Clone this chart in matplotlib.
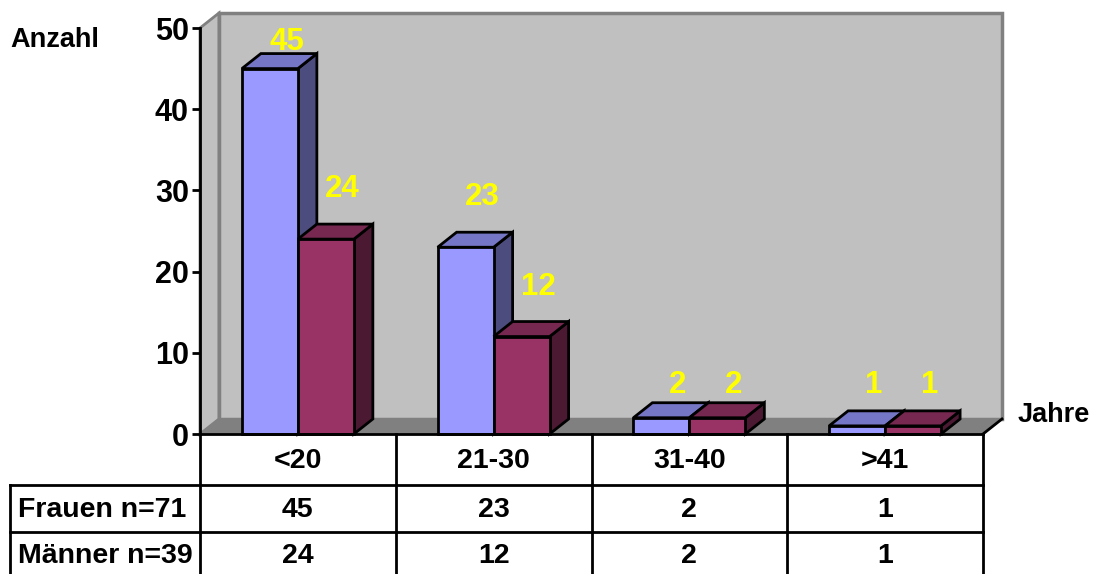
import matplotlib.pyplot as plt
from matplotlib.patches import Polygon

# data
categories = ['<20', '21-30', '31-40', '>41']
frauen = [45, 23, 2, 1]
maenner = [24, 12, 2, 1]
row_labels = ['Frauen n=71', 'Männer n=39']
yticks = [0, 10, 20, 30, 40, 50]

plt.rcParams['font.family'] = ['Liberation Sans', 'DejaVu Sans']
plt.rcParams['font.weight'] = 'bold'

W, H = 1095, 574
fig = plt.figure(figsize=(W / 100, H / 100), dpi=100)
# plot box in pixels: x 200..983, y 28..434
ax = fig.add_axes([200 / W, 1 - 434 / H, 783 / W, 406 / H])
ax.set_xlim(-0.5, 3.5)
ax.set_ylim(0, 50)
for s in ['top', 'right', 'bottom']:
    ax.spines[s].set_visible(False)
ax.spines['left'].set_linewidth(2)
ax.spines['left'].set_zorder(10)
ax.set_xticks([])
ax.set_yticks(yticks)
ax.tick_params(axis='y', length=6, width=2, pad=2, labelsize=22)
ax.patch.set_visible(False)

dx, dy = 0.097, 1.85   # depth offset (category units, value units)
ymax = 50

def poly(pts, fc, ec='black', lw=2, z=2):
    ax.add_patch(Polygon(pts, closed=True, facecolor=fc, edgecolor=ec,
                         linewidth=lw, zorder=z, clip_on=False, joinstyle='miter'))

# walls and floor
poly([(-0.5, 0), (-0.5 + dx, dy), (-0.5 + dx, ymax + dy), (-0.5, ymax)], '#C0C0C0', '#808080', 2, 0)
poly([(-0.5 + dx, dy), (3.5 + dx, dy), (3.5 + dx, ymax + dy), (-0.5 + dx, ymax + dy)], '#C0C0C0', '#808080', 2.5, 0)
poly([(-0.5, 0), (3.5, 0), (3.5 + dx, dy), (-0.5 + dx, dy)], '#808080', '#808080', 1, 0.5)
ax.plot([3.5, 3.5 + dx], [0, dy], color='black', lw=2, clip_on=False, zorder=1)

bw = 0.286
series = [(frauen, -bw / 2, ('#9999FF', '#7676C6', '#4C4C7F')),
          (maenner, bw / 2, ('#993366', '#772850', '#4C1933'))]

for i in range(len(categories)):
    for vals, off, (front, top, side) in series:
        v = vals[i]
        x0 = i + off - bw / 2
        x1 = i + off + bw / 2
        poly([(x1, 0), (x1 + dx, dy), (x1 + dx, v + dy), (x1, v)], side)
        poly([(x0, v), (x1, v), (x1 + dx, v + dy), (x0 + dx, v + dy)], top)
        poly([(x0, 0), (x1, 0), (x1, v), (x0, v)], front)
        ly = 6.0 if v < 5 else min(v + dy + 4.3, 48.3)
        ax.text(i + off + 0.085, ly, str(v), color='#FFFF00', fontsize=22.5,
                ha='center', va='center', zorder=5)

# data table below the plot
r1, r2, r3 = -6.28, -12.07, -17.5
xl = -1.47
kw = dict(color='black', lw=2, clip_on=False, zorder=6)
ax.plot([-0.5, 3.5], [0, 0], **kw)
ax.plot([xl, 3.5], [r1, r1], **kw)
ax.plot([xl, 3.5], [r2, r2], **kw)
ax.plot([xl, xl], [r1, r3], **kw)
for b in [-0.5, 0.5, 1.5, 2.5, 3.5]:
    ax.plot([b, b], [0, r3], **kw)

fs = 20.5
for i, c in enumerate(categories):
    ax.text(i, -3.3, c, fontsize=fs, ha='center', va='center')
    ax.text(i, -9.3, str(frauen[i]), fontsize=fs, ha='center', va='center')
    ax.text(i, -15.0, str(maenner[i]), fontsize=fs, ha='center', va='center')
ax.text(xl + 0.04, -9.3, row_labels[0], fontsize=fs, ha='left', va='center')
ax.text(xl + 0.04, -15.0, row_labels[1], fontsize=fs, ha='left', va='center')

fig.text(10 / W, 1 - 40 / H, 'Anzahl', fontsize=19.5, ha='left', va='center')
fig.text(1018 / W, 1 - 415 / H, 'Jahre', fontsize=19.5, ha='left', va='center')

fig.savefig('out.png', dpi=100)
